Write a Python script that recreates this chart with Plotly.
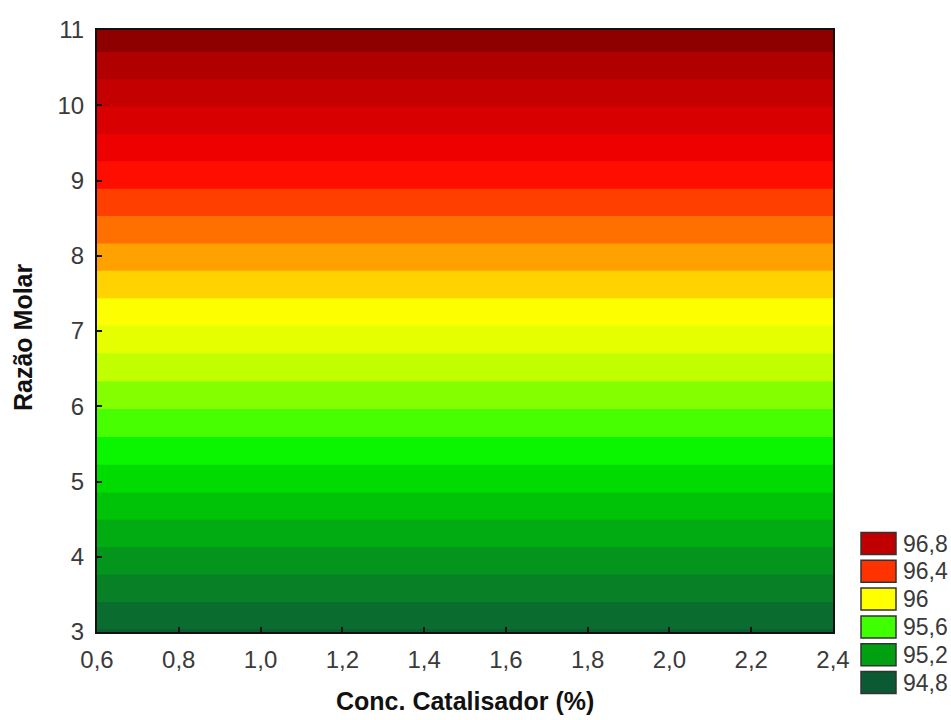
import plotly.graph_objects as go

# Response surface sampled on a coarse grid (value depends only on molar ratio)
conc_catalisador = [0.6, 1.2, 1.8, 2.4]
razao_molar = [3, 5, 7, 9, 11]
rendimento = [
    [94.89, 94.89, 94.89, 94.89],
    [95.44, 95.44, 95.44, 95.44],
    [95.98, 95.98, 95.98, 95.98],
    [96.53, 96.53, 96.53, 96.53],
    [97.08, 97.08, 97.08, 97.08],
]

# Contour levels and the fill colour of each band (band lower edge -> colour)
level_start, level_end, level_step = 94.8, 97.0, 0.1
band_colors = [
    "#0C5A34",  # 94.8
    "#0B6432",  # 94.9
    "#09792A",  # 95.0
    "#058E20",  # 95.1
    "#02A416",  # 95.2
    "#00BC08",  # 95.3
    "#00D600",  # 95.4
    "#00F400",  # 95.5
    "#40FF00",  # 95.6
    "#80FF00",  # 95.7
    "#C0FF00",  # 95.8
    "#E6FF00",  # 95.9
    "#FFFF00",  # 96.0
    "#FFCC00",  # 96.1
    "#FF9900",  # 96.2
    "#FF6600",  # 96.3
    "#FF3300",  # 96.4
    "#FF0000",  # 96.5
    "#E60000",  # 96.6
    "#D00000",  # 96.7
    "#BC0000",  # 96.8
    "#A60000",  # 96.9
    "#8E0000",  # 97.0
]

# Legend entries
legend_levels = [96.8, 96.4, 96.0, 95.6, 95.2, 94.8]
legend_colors = ["#C00000", "#FF3300", "#FFFF00", "#40FF00", "#00A010", "#0B5A34"]

x_ticks = [0.6, 0.8, 1.0, 1.2, 1.4, 1.6, 1.8, 2.0, 2.2, 2.4]
y_ticks = [3, 4, 5, 6, 7, 8, 9, 10, 11]

# Plotly fills each band with the colour found at (level + step/2),
# the colourscale spanning [level_start, level_end].
span = level_end - level_start
colorscale = [[0.0, band_colors[0]]]
for i, col in enumerate(band_colors[:-1]):
    lvl = level_start + i * level_step
    pos = (lvl + level_step / 2 - level_start) / span
    colorscale.append([min(pos, 1.0), col])
colorscale.append([1.0, band_colors[-1]])

fig = go.Figure()
fig.add_trace(go.Contour(
    x=conc_catalisador,
    y=razao_molar,
    z=rendimento,
    colorscale=colorscale,
    autocontour=False,
    contours=dict(start=level_start, end=level_end, size=level_step,
                  coloring="fill", showlines=False),
    line=dict(width=0),
    showscale=False,
    hoverinfo="skip",
))

W, H = 951, 720
ML, MR, MT, MB = 97, 118, 30, 88
PW, PH = W - ML - MR, H - MT - MB


def px_x(px):
    return (px - ML) / PW


def px_y(py):
    return (H - MB - py) / PH


tick_font = dict(family="Arial", size=24, color="#3a3a3a")

fig.update_xaxes(
    range=[0.6, 2.4], tickvals=x_ticks, tickformat=".1f",
    ticks="inside", ticklen=5, tickcolor="#111", tickwidth=1.5,
    ticklabelstandoff=5,
    showline=True, linecolor="#111", linewidth=2, mirror=True,
    showgrid=False, zeroline=False, tickfont=tick_font,
)
fig.update_yaxes(
    range=[3, 11], tickvals=y_ticks,
    ticks="inside", ticklen=5, tickcolor="#111", tickwidth=1.5,
    ticklabelstandoff=6,
    showline=True, linecolor="#111", linewidth=2, mirror=True,
    showgrid=False, zeroline=False, tickfont=tick_font,
)

title_font = dict(family="Arial", size=25, color="#111", weight="bold")
annotations = [
    dict(text="Conc. Catalisador (%)", xref="paper", yref="paper",
         x=px_x(465), y=px_y(701), xanchor="center", yanchor="middle",
         showarrow=False, font=title_font),
    dict(text="Razão Molar", xref="paper", yref="paper",
         x=px_x(23), y=px_y(337), xanchor="center", yanchor="middle",
         textangle=-90, showarrow=False, font=title_font),
]

shapes = []
row_y0, row_gap, sw_h = 543.5, 27.8, 22
sw_x0, sw_x1 = 861, 896
for i, (lvl, col) in enumerate(zip(legend_levels, legend_colors)):
    cy = row_y0 + i * row_gap
    shapes.append(dict(
        type="rect", xref="paper", yref="paper",
        x0=px_x(sw_x0), x1=px_x(sw_x1),
        y0=px_y(cy + sw_h / 2), y1=px_y(cy - sw_h / 2),
        fillcolor=col, line=dict(color="#333", width=1.5), layer="above",
    ))
    label = f"{lvl:g}".replace(".", ",")
    annotations.append(dict(
        text=label, xref="paper", yref="paper",
        x=px_x(901), y=px_y(cy), xanchor="left", yanchor="middle",
        showarrow=False, font=dict(family="Arial", size=23, color="#3a3a3a"),
    ))

fig.update_layout(
    width=W, height=H,
    margin=dict(l=ML, r=MR, t=MT, b=MB),
    paper_bgcolor="white", plot_bgcolor="white",
    separators=",.",
    showlegend=False,
    annotations=annotations,
    shapes=shapes,
)

fig.write_html("out.html")
